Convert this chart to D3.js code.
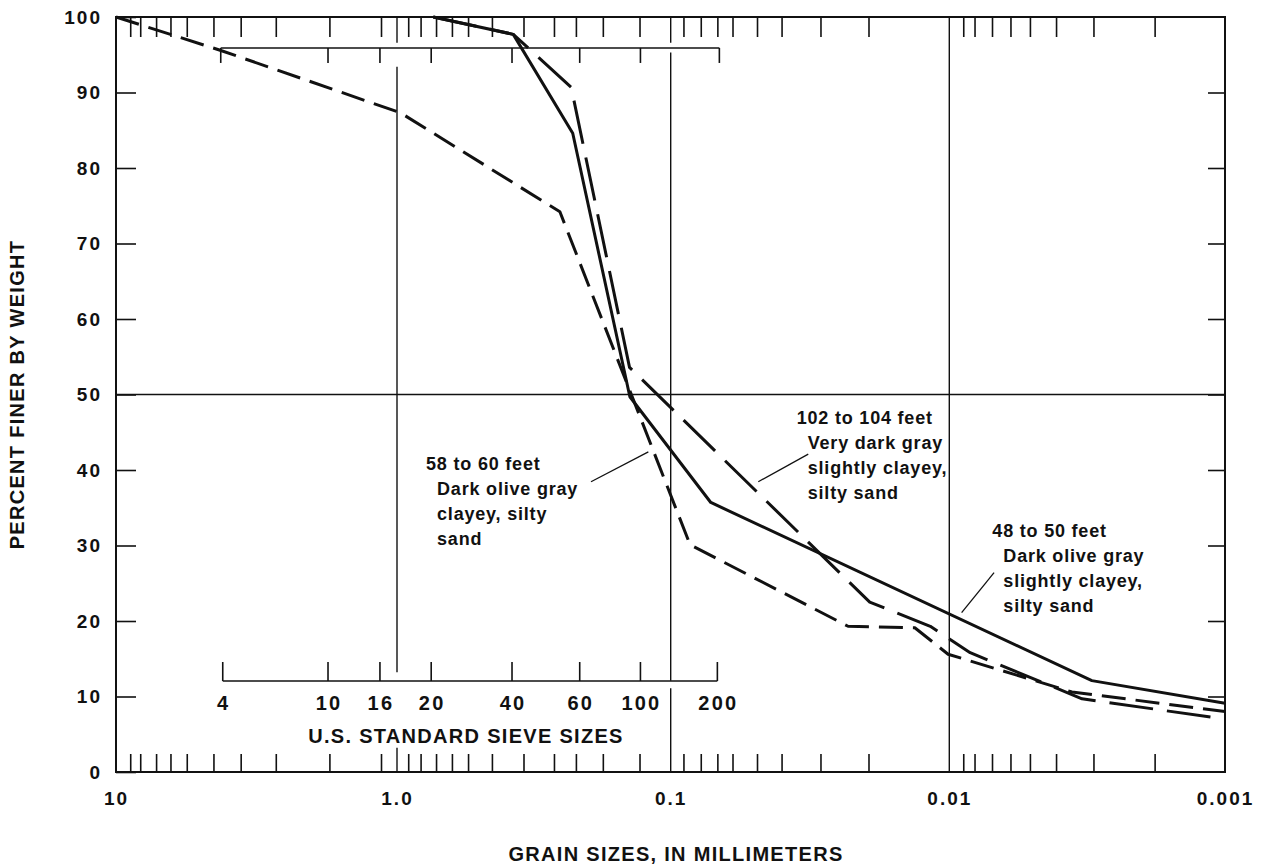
<!DOCTYPE html>
<html>
<head>
<meta charset="utf-8">
<script src="https://cdn.jsdelivr.net/npm/d3@7"></script>
<style>
  body { margin: 0; background: #fff; }
  text { font-family: "Liberation Sans", Arial, Helvetica, sans-serif; font-weight: bold; fill: #111; }
</style>
</head>
<body>
<svg id="chart" width="1265" height="865"></svg>
<script>
// grain size (mm) and percent finer for each sample
const depth48Mm = [0.737, 0.376, 0.228, 0.141, 0.0718, 0.00304, 0.001];
const depth48Pct = [100, 97.7, 84.6, 49.7, 35.7, 12.1, 9.1];

const depth58Mm = [10, 4.26, 0.97, 0.254, 0.0852, 0.0231, 0.0133, 0.0101, 0.00359, 0.001];
const depth58Pct = [100, 95.6, 87.3, 74.2, 30.1, 19.3, 19.1, 15.6, 10.6, 8.0];

const depth102Mm = [0.737, 0.376, 0.231, 0.1414, 0.0193, 0.0117, 0.0084, 0.0033, 0.001];
const depth102Pct = [100, 97.7, 90.7, 53.6, 22.5, 19.3, 15.8, 9.7, 7.0];

// axis labels
const xMajor = [10, 1, 0.1, 0.01, 0.001];
const xLabels = ["10", "1.0", "0.1", "0.01", "0.001"];
const yTicks = d3.range(0, 101, 10);

// minor ticks printed on the graph form (mm)
const mmTicks = [8.9, 8.2, 7.2, 6.4, 5.6, 4.5, 3.6, 2.7, 1.74, 1.14,
  0.91, 0.82, 0.72, 0.63, 0.55, 0.45, 0.345, 0.267, 0.222, 0.177, 0.13,
  0.09, 0.078, 0.068, 0.06, 0.049, 0.04, 0.029, 0.0195,
  0.0089, 0.0081, 0.007, 0.006, 0.0051, 0.0041, 0.003, 0.0018];

// sieve scale
const sieveLabels = ["4", "10", "16", "20", "40", "60", "100", "200"];
const sieveMm = [4.17, 1.76, 1.15, 0.75, 0.38, 0.215, 0.129, 0.068];

// annotation text
const label48 = ["48 to 50 feet", "Dark olive gray", "slightly clayey,", "silty sand"];
const label58 = ["58 to 60 feet", "Dark olive gray", "clayey, silty", "sand"];
const label102 = ["102 to 104 feet", "Very dark gray", "slightly clayey,", "silty sand"];

const svg = d3.select("#chart");

// log10 of grain size -> px (each decade set separately, as on the printed form)
const x = d3.scaleLinear().domain([1, 0, -1, -2, -3]).range([116, 397, 670.7, 949.3, 1225]);
const mmX = (v) => x(Math.log10(v));
const y = d3.scaleLinear().domain([0, 100]).range([772, 17]);

const plotLeft = x(1), plotRight = x(-3), plotTop = y(100), plotBottom = y(0);

function plain(g) {
  g.select(".domain").remove();
  g.attr("font-family", null).attr("font-size", null);
  g.selectAll("line").attr("stroke", "#111").attr("stroke-width", 1.6);
}

// minor ticks top and bottom
svg.append("g")
  .attr("transform", "translate(0," + plotBottom + ")")
  .call(d3.axisBottom(x).tickValues(mmTicks.map(Math.log10)).tickSize(-18).tickFormat(""))
  .call(plain);
svg.append("g")
  .attr("transform", "translate(0," + plotTop + ")")
  .call(d3.axisTop(x).tickValues(mmTicks.map(Math.log10)).tickSize(-20).tickFormat(""))
  .call(plain);

// x labels
svg.append("g")
  .attr("transform", "translate(0," + plotBottom + ")")
  .call(d3.axisBottom(x).tickValues(xMajor.map(Math.log10)).tickSize(0).tickPadding(20)
    .tickFormat((d, i) => xLabels[i]))
  .call(plain)
  .selectAll("text").style("font-size", "19px").style("letter-spacing", "2px");

// y axis left with labels, right ticks only
svg.append("g")
  .attr("transform", "translate(" + plotLeft + ",0)")
  .call(d3.axisLeft(y).tickValues(yTicks).tickSize(-20).tickPadding(14))
  .call(plain)
  .selectAll("text").style("font-size", "19px").style("letter-spacing", "2px");
svg.append("g")
  .attr("transform", "translate(" + plotRight + ",0)")
  .call(d3.axisRight(y).tickValues(yTicks.slice(1, -1)).tickSize(-17).tickFormat(""))
  .call(plain);

// frame
svg.append("rect")
  .attr("x", plotLeft).attr("y", plotTop)
  .attr("width", plotRight - plotLeft).attr("height", plotBottom - plotTop)
  .attr("fill", "none").attr("stroke", "#111").attr("stroke-width", 2);

// grid lines of the form
const grid = svg.append("g").attr("stroke", "#111").attr("stroke-width", 1.4);
grid.append("line").attr("x1", plotLeft).attr("x2", plotRight).attr("y1", y(50)).attr("y2", y(50));
grid.append("line").attr("x1", mmX(0.01)).attr("x2", mmX(0.01)).attr("y1", plotTop).attr("y2", plotBottom);
grid.append("line").attr("x1", mmX(0.1)).attr("x2", mmX(0.1)).attr("y1", y(95.3)).attr("y2", y(12.1));
grid.append("line").attr("x1", mmX(0.1)).attr("x2", mmX(0.1)).attr("y1", y(11.1)).attr("y2", plotBottom);
grid.append("line").attr("x1", mmX(0.1)).attr("x2", mmX(0.1)).attr("y1", plotTop).attr("y2", y(96.6));
grid.append("line").attr("x1", mmX(1)).attr("x2", mmX(1)).attr("y1", y(93.4)).attr("y2", y(13.2));
grid.append("line").attr("x1", mmX(1)).attr("x2", mmX(1)).attr("y1", plotTop).attr("y2", y(96.6));
grid.append("line").attr("x1", mmX(1)).attr("x2", mmX(1)).attr("y1", y(3.2)).attr("y2", plotBottom);

// sieve scales (bottom with labels, and mirrored one near the top)
const sieveLo = y(12.05), sieveHi = y(95.9);
const nS = sieveMm.length;
const endShift = (i) => (i === 0 ? -2 : i === nS - 1 ? 2 : 0);
const sieve = svg.append("g").attr("stroke", "#111").attr("stroke-width", 1.6);
sieve.append("line")
  .attr("x1", mmX(sieveMm[0])).attr("x2", mmX(sieveMm[nS - 1]))
  .attr("y1", sieveLo).attr("y2", sieveLo);
sieve.append("line")
  .attr("x1", mmX(sieveMm[0]) - 2).attr("x2", mmX(sieveMm[nS - 1]) + 2)
  .attr("y1", sieveHi).attr("y2", sieveHi);
sieve.selectAll(".lo").data(sieveMm).enter().append("line")
  .attr("x1", (d) => mmX(d)).attr("x2", (d) => mmX(d))
  .attr("y1", sieveLo).attr("y2", sieveLo - 19);
sieve.selectAll(".hi").data(sieveMm).enter().append("line")
  .attr("x1", (d, i) => mmX(d) + endShift(i))
  .attr("x2", (d, i) => mmX(d) + endShift(i))
  .attr("y1", sieveHi).attr("y2", sieveHi + 15);

svg.selectAll(".sieveLabel").data(sieveMm).enter().append("text")
  .attr("x", (d) => mmX(d) + 1)
  .attr("y", sieveLo + 29)
  .attr("text-anchor", "middle")
  .style("font-size", "20px").style("letter-spacing", "2.2px")
  .text((d, i) => sieveLabels[i]);

svg.append("text")
  .attr("x", 466).attr("y", sieveLo + 62)
  .attr("text-anchor", "middle")
  .style("font-size", "20px").style("letter-spacing", "1.3px")
  .text("U.S. STANDARD SIEVE SIZES");

// axis titles
svg.append("text")
  .attr("x", 676).attr("y", 861)
  .attr("text-anchor", "middle")
  .style("font-size", "20px").style("letter-spacing", "1.3px")
  .text("GRAIN SIZES, IN MILLIMETERS");

svg.append("text")
  .attr("transform", "translate(24," + y(50) + ") rotate(-90)")
  .attr("text-anchor", "middle")
  .style("font-size", "20px").style("letter-spacing", "1.3px")
  .text("PERCENT FINER BY WEIGHT");

// curves
const line = d3.line().x((d) => mmX(d[0])).y((d) => y(d[1]));
const curves = [
  { pts: d3.zip(depth58Mm, depth58Pct), dash: "24,10" },
  { pts: d3.zip(depth102Mm, depth102Pct), dash: "44,14" },
  { pts: d3.zip(depth48Mm, depth48Pct), dash: null },
];
svg.append("g").selectAll("path").data(curves).enter().append("path")
  .attr("d", (d) => line(d.pts))
  .attr("fill", "none")
  .attr("stroke", "#111")
  .attr("stroke-width", 3)
  .attr("stroke-linejoin", "round")
  .attr("stroke-dasharray", (d) => d.dash);

// annotations: anchor of first line (mm, %), leader line ends (mm, %)
const notes = [
  { lines: label58, at: [0.783, 40.0], leader: [[0.1955, 38.45], [0.1207, 42.4]] },
  { lines: label102, at: [0.03529, 46.1], leader: [[0.04849, 38.45], [0.03208, 42.1]] },
  { lines: label48, at: [0.00698, 31.1], leader: [[0.00902, 21.1], [0.00688, 26.4]] },
];
notes.forEach(function (n) {
  const t = svg.append("text")
    .attr("x", mmX(n.at[0])).attr("y", y(n.at[1]))
    .style("font-size", "18px").style("letter-spacing", "0.8px");
  n.lines.forEach(function (s, i) {
    t.append("tspan")
      .attr("x", mmX(n.at[0]) + (i === 0 ? 0 : 11))
      .attr("dy", i === 0 ? 0 : 25)
      .text(s);
  });
  svg.append("line")
    .attr("x1", mmX(n.leader[0][0])).attr("y1", y(n.leader[0][1]))
    .attr("x2", mmX(n.leader[1][0])).attr("y2", y(n.leader[1][1]))
    .attr("stroke", "#111").attr("stroke-width", 1.3);
});
</script>
</body>
</html>
